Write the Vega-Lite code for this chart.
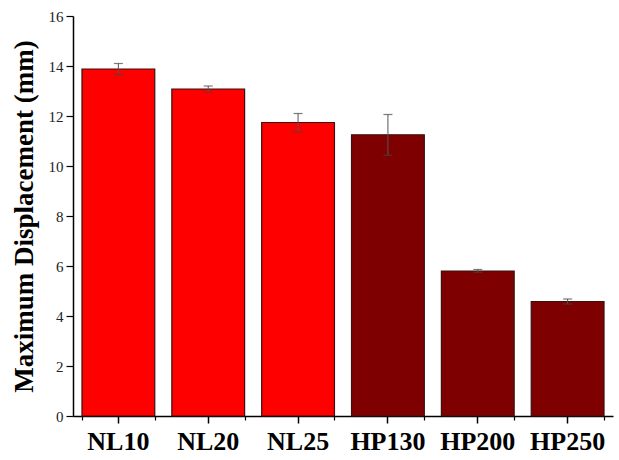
{
  "$schema": "https://vega.github.io/schema/vega-lite/v6.json",
  "width": 540,
  "height": 400,
  "autosize": {"type": "none"},
  "padding": {"left": 73, "top": 16, "right": 6, "bottom": 44},
  "background": "white",
  "config": {"view": {"stroke": null}, "font": "Liberation Serif"},
  "data": {
    "values": [
      {"sample": "NL10", "value": 13.88, "lo": 13.66, "hi": 14.1, "group": "NL"},
      {"sample": "NL20", "value": 13.08, "lo": 12.96, "hi": 13.2, "group": "NL"},
      {"sample": "NL25", "value": 11.74, "lo": 11.37, "hi": 12.1, "group": "NL"},
      {"sample": "HP130", "value": 11.25, "lo": 10.43, "hi": 12.06, "group": "HP"},
      {"sample": "HP200", "value": 5.8, "lo": 5.75, "hi": 5.86, "group": "HP"},
      {"sample": "HP250", "value": 4.58, "lo": 4.48, "hi": 4.68, "group": "HP"}
    ]
  },
  "resolve": {"axis": {"x": "independent"}},
  "layer": [
    {
      "mark": {"type": "bar", "stroke": "#3a1010", "strokeWidth": 1.2},
      "encoding": {
        "x": {
          "field": "sample",
          "type": "nominal",
          "sort": null,
          "scale": {"paddingInner": 0.19, "paddingOuter": 0.1},
          "axis": {
            "title": null,
            "orient": "bottom",
            "labelAngle": 0,
            "labelFont": "Liberation Serif",
            "labelFontWeight": "bold",
            "labelFontSize": 26,
            "labelColor": "black",
            "labelPadding": 5,
            "domainColor": "black",
            "domainWidth": 1.5,
            "tickColor": "black",
            "tickWidth": 1.5,
            "tickSize": 7
          }
        },
        "y": {
          "field": "value",
          "type": "quantitative",
          "scale": {"domain": [0, 16], "nice": false},
          "axis": {
            "title": "Maximum Displacement (mm)",
            "titleFont": "Liberation Serif",
            "titleFontWeight": "bold",
            "titleFontSize": 27,
            "titleColor": "black",
            "titlePadding": 10,
            "values": [0, 1, 2, 3, 4, 5, 6, 7, 8, 9, 10, 11, 12, 13, 14, 15, 16],
            "labelExpr": "datum.value % 2 === 0 ? datum.label : ''",
            "labelFont": "Liberation Serif",
            "labelFontSize": 15,
            "labelColor": "#222",
            "labelPadding": 3,
            "grid": false,
            "domainColor": "black",
            "domainWidth": 1.5,
            "tickColor": "black",
            "tickWidth": 1.2,
            "tickSize": {"condition": {"test": "datum.value % 2 === 0", "value": 7}, "value": 4}
          }
        },
        "color": {
          "field": "group",
          "type": "nominal",
          "scale": {"domain": ["NL", "HP"], "range": ["#ff0000", "#7f0000"]},
          "legend": null
        }
      }
    },
    {
      "mark": {"type": "rule", "color": "#555555", "strokeWidth": 1},
      "encoding": {
        "x": {
          "field": "sample",
          "type": "nominal",
          "sort": null,
          "axis": {
            "title": null,
            "orient": "bottom",
            "tickBand": "extent",
            "labels": false,
            "domain": false,
            "tickColor": "black",
            "tickWidth": 1.2,
            "tickSize": 4
          }
        },
        "y": {"field": "lo", "type": "quantitative"},
        "y2": {"field": "hi"}
      }
    },
    {
      "mark": {"type": "tick", "color": "#444444", "thickness": 1.2, "size": 9},
      "encoding": {
        "x": {"field": "sample", "type": "nominal", "sort": null, "axis": null},
        "y": {"field": "lo", "type": "quantitative"}
      }
    },
    {
      "mark": {"type": "tick", "color": "#444444", "thickness": 1.2, "size": 9},
      "encoding": {
        "x": {"field": "sample", "type": "nominal", "sort": null, "axis": null},
        "y": {"field": "hi", "type": "quantitative"}
      }
    }
  ]
}
